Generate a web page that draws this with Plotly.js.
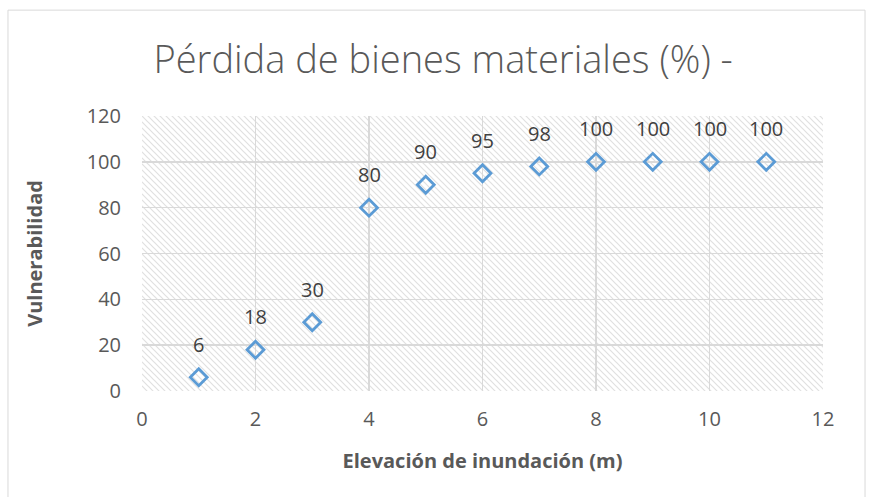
<!DOCTYPE html>
<html><head><meta charset="utf-8">
<script src="https://cdn.plot.ly/plotly-3.0.1.min.js"></script>
<style>html,body{margin:0;padding:0;background:#fff}#c{width:869px;height:497px}</style>
</head><body><div id="c"></div>
<script>
const elevacion = [1,2,3,4,5,6,7,8,9,10,11];
const vulnerabilidad = [6,18,30,80,90,95,98,100,100,100,100];
const xTicks = [0,2,4,6,8,10,12];
const yTicks = [0,20,40,60,80,100,120];

const svg = '<svg xmlns="http://www.w3.org/2000/svg" width="681" height="275"><defs><pattern id="p" width="6" height="6" patternUnits="userSpaceOnUse"><path d="M-1,5 L1,7 M0,0 L6,6 M5,-1 L7,1" stroke="#e0e0e0" stroke-width="1.2"/></pattern></defs><rect width="681" height="275" fill="#fff"/><rect width="681" height="275" fill="url(#p)"/></svg>';
const src = 'data:image/svg+xml;charset=utf-8,' + encodeURIComponent(svg);

const FONT = 'Open Sans, sans-serif';
const trace = {
  x: elevacion, y: vulnerabilidad, type: 'scatter', mode: 'markers',
  marker: {symbol: 'diamond-open', size: 13, color: '#5B9BD5', line: {width: 2.8, color: '#5B9BD5'}},
  cliponaxis: false, hoverinfo: 'x+y'
};
const labels = elevacion.map((x, i) => ({
  x: x, y: vulnerabilidad[i], xref: 'x', yref: 'y', text: String(vulnerabilidad[i]),
  showarrow: false, yshift: 33, font: {family: FONT, size: 20, color: '#404040'}
}));
const layout = {
  width: 869, height: 497,
  margin: {l: 142, r: 46, t: 116, b: 106},
  paper_bgcolor: '#fff', plot_bgcolor: '#fff',
  showlegend: false,
  title: {text: 'Pérdida de bienes materiales (%) -', x: 0.51, xanchor: 'center', y: 0.88, yanchor: 'middle',
    font: {family: FONT, size: 38, color: '#595959', weight: 300}},
  xaxis: {range: [0, 12], tickvals: xTicks, ticktext: xTicks.map(String), showgrid: true, gridcolor: '#d9d9d9', gridwidth: 1.5,
    zeroline: false, showline: false, ticks: '', ticklabelstandoff: 14, tickfont: {family: FONT, size: 20, color: '#595959'},
    title: {text: 'Elevación de inundación (m)', font: {family: FONT, size: 20, color: '#595959', weight: 'bold'}, standoff: 22}},
  yaxis: {range: [0, 120], tickvals: yTicks, ticktext: yTicks.map(String), showgrid: true, gridcolor: '#d9d9d9', gridwidth: 1.5,
    zeroline: false, showline: false, ticks: '', ticklabelstandoff: 20, tickfont: {family: FONT, size: 20, color: '#595959'},
    title: {text: 'Vulnerabilidad', font: {family: FONT, size: 20, color: '#595959', weight: 'bold'}, standoff: 38}},
  annotations: labels,
  images: [{source: src, xref: 'paper', yref: 'paper', x: 0, y: 1, sizex: 1, sizey: 1, xanchor: 'left', yanchor: 'top', sizing: 'stretch', layer: 'below'}],
  shapes: [{type: 'rect', xref: 'paper', yref: 'paper', x0: -0.1968, x1: 1.0617, y0: -0.45, y1: 1.385,
    line: {color: '#d9d9d9', width: 1}, fillcolor: 'rgba(0,0,0,0)', layer: 'below'}]
};
Plotly.newPlot('c', [trace], layout, {displayModeBar: false, staticPlot: true});
</script></body></html>
